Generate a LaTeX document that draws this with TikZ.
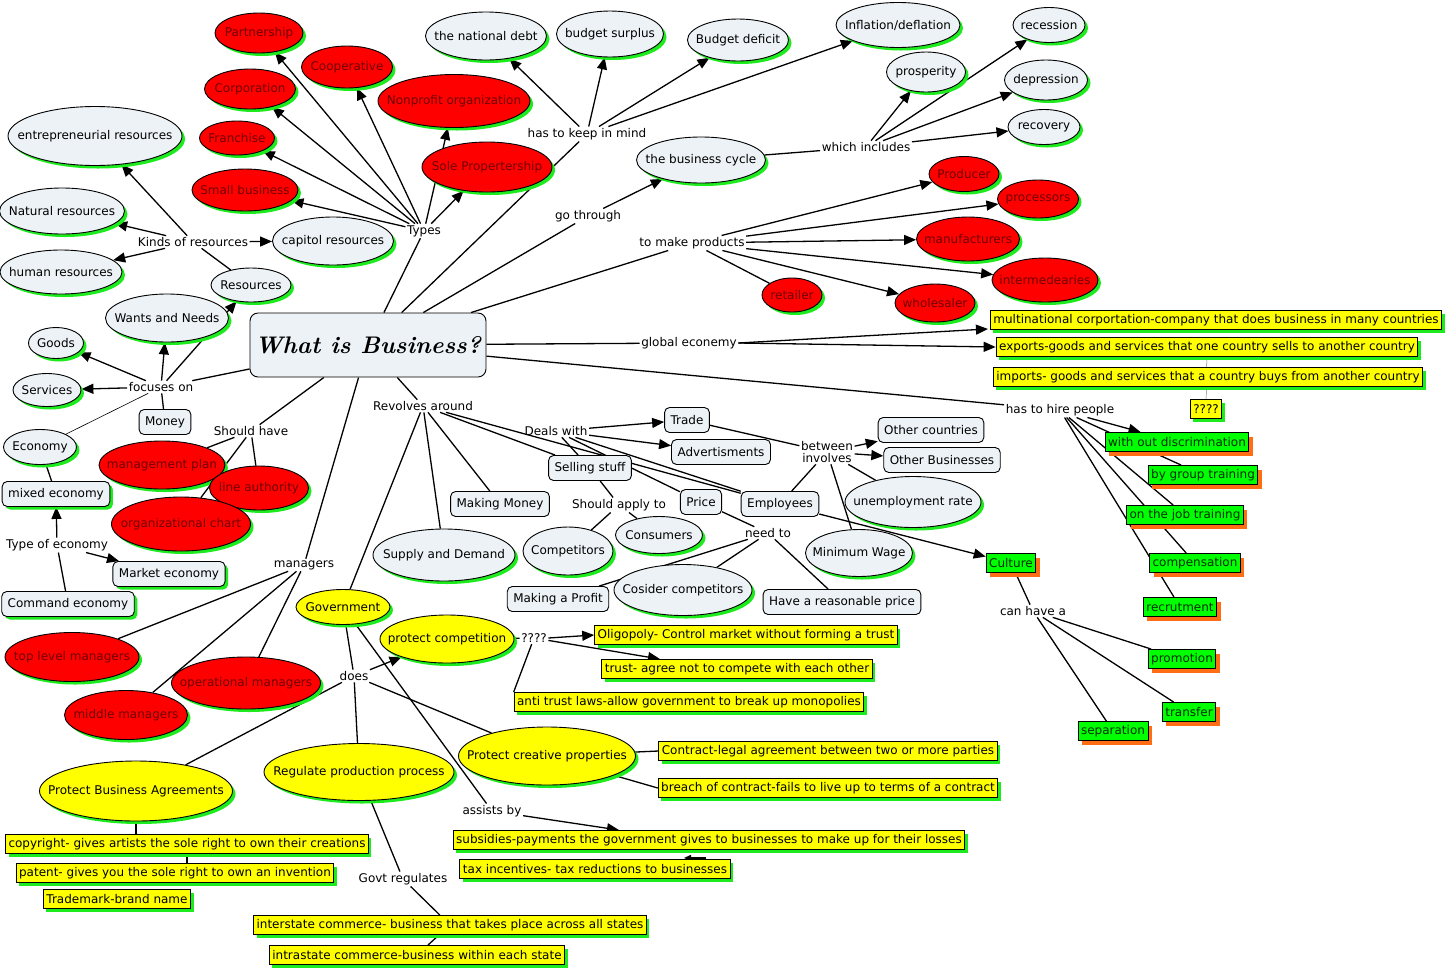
\documentclass[tikz,border=0pt]{standalone}
\usepackage{fontspec}
\setsansfont{DejaVu Sans}
\usetikzlibrary{shadows,arrows.meta,calc,shapes.geometric}
\pgfdeclarelayer{bg}
\pgfdeclarelayer{paper}
\pgfsetlayers{paper,bg,main}
\definecolor{lightc}{RGB}{236,242,245}
\definecolor{shg}{RGB}{30,235,30}
\definecolor{rfill}{RGB}{255,0,0}
\definecolor{rtext}{RGB}{110,0,0}
\definecolor{yfill}{RGB}{255,255,0}
\definecolor{gfill}{RGB}{0,255,0}
\definecolor{gtext}{RGB}{0,45,0}
\definecolor{oshc}{RGB}{255,110,20}
\newcommand\Ov[6]{\node[#1,minimum width=#4pt,minimum height=#5pt] (#2) at (#3) {};\node[#1t] at (#2.center) {#6};}
\begin{document}
\begin{tikzpicture}[x=1pt,y=-1pt,
  every node/.style={font=\sffamily\fontsize{12}{14}\selectfont},
  gsh/.style={drop shadow={shadow xshift=3pt,shadow yshift=-3pt,fill=shg,opacity=1}},
  oshd/.style={drop shadow={shadow xshift=4pt,shadow yshift=-4pt,fill=oshc,opacity=1}},
  ovbase/.style={ellipse,draw=black,line width=0.9pt,inner sep=0pt,gsh},
  rov/.style={ovbase,fill=rfill}, rovt/.style={text=rtext},
  lov/.style={ovbase,fill=lightc}, lovt/.style={text=black},
  yov/.style={ovbase,fill=yfill}, yovt/.style={text=black},
  lbox/.style={rectangle,rounded corners=5pt,draw=black,line width=0.9pt,fill=lightc,inner xsep=6pt,inner ysep=0pt,minimum height=25pt},
  lboxs/.style={lbox,gsh},
  ybox/.style={rectangle,draw=black,line width=0.9pt,fill=yfill,inner xsep=3pt,inner ysep=0pt,minimum height=19pt,gsh},
  gbox/.style={rectangle,draw=black,line width=0.9pt,fill=gfill,text=gtext,inner xsep=3pt,inner ysep=0pt,minimum height=19pt,oshd},
  lab/.style={inner sep=1.5pt},
  ln/.style={line width=1.3pt,draw=black},
  arr/.style={ln,-{Triangle[length=12pt,width=10pt]}},
  thinln/.style={line width=0.6pt,draw=black}
]
\begin{pgfonlayer}{paper}
\fill[white] (0,0) rectangle (1450,970);
\end{pgfonlayer}
\useasboundingbox (0,0) rectangle (1450,970);

% main
\node[rectangle,rounded corners=8pt,draw=black,line width=0.9pt,fill=lightc,minimum width=236pt,minimum height=64pt] (main) at (368,345) {\rmfamily\bfseries\itshape\fontsize{24}{28}\selectfont What is Business?};

% red ovals
\Ov{rov}{partner}{259,33}{88}{40}{Partnership}
\Ov{rov}{coop}{347,67}{91}{42}{Cooperative}
\Ov{rov}{corp}{250,89}{91}{40}{Corporation}
\Ov{rov}{franch}{237,138}{75}{34}{Franchise}
\Ov{rov}{smallb}{245,190}{106}{42}{Small business}
\Ov{rov}{nonprofit}{454,101}{152}{53}{Nonprofit organization}
\Ov{rov}{solep}{487,167}{130}{50}{Sole Propertership}
\Ov{rov}{producer}{964,174}{70}{35}{Producer}
\Ov{rov}{processors}{1038,199}{81}{38}{processors}
\Ov{rov}{manuf}{968,239}{103}{44}{manufacturers}
\Ov{rov}{interm}{1045,280}{106}{44}{intermedearies}
\Ov{rov}{retailer}{792,295}{60}{34}{retailer}
\Ov{rov}{wholesaler}{935,303}{80}{38}{wholesaler}
\Ov{rov}{mgmtplan}{162,465}{126}{48}{management plan}
\Ov{rov}{lineauth}{259,488}{99}{44}{line authority}
\Ov{rov}{orgchart}{181,524}{139}{54}{organizational chart}
\Ov{rov}{toplevel}{72,657}{134}{49}{top level managers}
\Ov{rov}{operational}{246,683}{149}{52}{operational managers}
\Ov{rov}{middle}{126,715}{123}{49}{middle managers}

% light ovals
\Ov{lov}{entre}{95,136}{174}{59}{entrepreneurial resources}
\Ov{lov}{natural}{62,211}{125}{46}{Natural resources}
\Ov{lov}{human}{61,272}{122}{44}{human resources}
\Ov{lov}{capitol}{333,241}{121}{48}{capitol resources}
\Ov{lov}{resources}{251,285}{80}{34}{Resources}
\Ov{lov}{wants}{167,318}{123}{48}{Wants and Needs}
\Ov{lov}{natdebt}{486,36}{121}{48}{the national debt}
\Ov{lov}{surplus}{610,34}{107}{46}{budget surplus}
\Ov{lov}{deficit}{738,40}{101}{42}{Budget deficit}
\Ov{lov}{inflation}{898,25}{124}{45}{Inflation/deflation}
\Ov{lov}{recession}{1049,25}{72}{35}{recession}
\Ov{lov}{prosperity}{926,72}{79}{40}{prosperity}
\Ov{lov}{depression}{1046,80}{83}{40}{depression}
\Ov{lov}{recovery}{1044,127}{72}{35}{recovery}
\Ov{lov}{cycle}{701,160}{129}{46}{the business cycle}
\Ov{lov}{goods}{56,343}{55}{31}{Goods}
\Ov{lov}{services}{47,390}{68}{33}{Services}
\Ov{lov}{economy}{40,447}{73}{35}{Economy}
\Ov{lov}{unemploy}{913,502}{136}{51}{unemployment rate}
\Ov{lov}{consumers}{659,535}{87}{37}{Consumers}
\Ov{lov}{competitors}{568,551}{90}{48}{Competitors}
\Ov{lov}{supply}{444,555}{142}{52}{Supply and Demand}
\Ov{lov}{minwage}{859,553}{107}{47}{Minimum Wage}
\Ov{lov}{consider}{683,590}{138}{51}{Cosider competitors}

% yellow ovals
\Ov{yov}{govt}{343,607}{94}{35}{Government}
\Ov{yov}{protcomp}{447,639}{134}{48}{protect competition}
\Ov{yov}{creative}{547,756}{177}{58}{Protect creative properties}
\Ov{yov}{regulate}{359,772}{190}{57}{Regulate production process}
\Ov{yov}{agreements}{136,791}{193}{60}{Protect Business Agreements}

% light boxes
\node[lbox] (money) at (165,422) {Money};
\node[lboxs] (mixed) at (56,494) {mixed economy};
\node[lboxs] (market) at (169,574) {Market economy};
\node[lboxs] (command) at (68,604) {Command economy};
\node[lbox] (trade) at (687,420) {Trade};
\node[lbox] (advert) at (721,452) {Advertisments};
\node[lbox] (othercountries) at (931,430) {Other countries};
\node[lbox] (otherbiz) at (942,460) {Other Businesses};
\node[lbox] (selling) at (590,468) {Selling stuff};
\node[lbox] (makingmoney) at (500,504) {Making Money};
\node[lbox] (price) at (701,502) {Price};
\node[lbox] (employees) at (780,504) {Employees};
\node[lbox] (makingprofit) at (558,599) {Making a Profit};
\node[lbox] (reasonable) at (842,602) {Have a reasonable price};

% yellow boxes
\node[ybox] (multinat) at (1216,320) {multinational corportation-company that does business in many countries};
\node[ybox] (exports) at (1207,347) {exports-goods and services that one country sells to another country};
\node[ybox] (imports) at (1208,377) {imports- goods and services that a country buys from another country};
\node[ybox] (qq) at (1206,409) {????};
\node[ybox] (oligopoly) at (746,635) {Oligopoly- Control market without forming a trust};
\node[ybox] (trust) at (737,669) {trust- agree not to compete with each other};
\node[ybox] (antitrust) at (689,702) {anti trust laws-allow government to break up monopolies};
\node[ybox] (contract) at (828,751) {Contract-legal agreement between two or more parties};
\node[ybox] (breach) at (828,788) {breach of contract-fails to live up to terms of a contract};
\node[ybox] (subsidies) at (709,840) {subsidies-payments the government gives to businesses to make up for their losses};
\node[ybox] (taxinc) at (595,869) {tax incentives- tax reductions to businesses};
\node[ybox] (copyright) at (187,844) {copyright- gives artists the sole right to own their creations};
\node[ybox] (patent) at (175,873) {patent- gives you the sole right to own an invention};
\node[ybox] (trademark) at (117,899) {Trademark-brand name};
\node[ybox] (interstate) at (450,925) {interstate commerce- business that takes place across all states};
\node[ybox] (intrastate) at (417,955) {intrastate commerce-business within each state};

% green boxes
\node[gbox] (withoutdisc) at (1177,442) {with out discrimination};
\node[gbox] (bygroup) at (1203,475) {by group training};
\node[gbox] (onjob) at (1185,515) {on the job training};
\node[gbox] (compensation) at (1195,563) {compensation};
\node[gbox] (recrut) at (1180,607) {recrutment};
\node[gbox] (culture) at (1011,563) {Culture};
\node[gbox] (promotion) at (1182,659) {promotion};
\node[gbox] (transfer) at (1189,712) {transfer};
\node[gbox] (separation) at (1113,731) {separation};

% linking phrases
\node[lab] (kinds) at (193,242) {Kinds of resources};
\node[lab] (types) at (424,231) {Types};
\node[lab] (keep) at (587,134) {has to keep in mind};
\node[lab] (which) at (866,147) {which includes};
\node[lab] (gothrough) at (588,216) {go through};
\node[lab] (makeprod) at (692,243) {to make products};
\node[lab] (global) at (689,343) {global econemy};
\node[lab] (hire) at (1060,410) {has to hire people};
\node[lab] (canhave) at (1033,611) {can have a};
\node[lab] (focuses) at (161,387) {focuses on};
\node[lab] (shouldhave) at (251,431) {Should have};
\node[lab] (typeeco) at (57,545) {Type of economy};
\node[lab] (managers) at (304,565) {managers};
\node[lab] (revolves) at (423,406) {Revolves around};
\node[lab] (deals) at (556,431) {Deals with};
\node[lab,align=center] (between) at (827,452) {between\\[-2pt]involves};
\node[lab] (shouldapply) at (619,505) {Should apply to};
\node[lab] (needto) at (768,533) {need to};
\node[lab] (qmark) at (534,638) {????};
\node[lab] (does) at (354,676) {does};
\node[lab] (assists) at (492,811) {assists by};
\node[lab] (govtreg) at (403,879) {Govt regulates};

\begin{pgfonlayer}{bg}
% from main
\foreach \t in {types,keep,gothrough,makeprod,global,hire,focuses,shouldhave,managers,revolves}
  \draw[ln] (main) -- (\t);
% resources
\foreach \t in {entre,natural,human,capitol} \draw[arr] (kinds) -- (\t);
\draw[ln] (resources) -- (kinds);
\foreach \t in {partner,coop,corp,franch,smallb,nonprofit,solep} \draw[arr] (types) -- (\t);
\foreach \t in {natdebt,surplus,deficit,inflation} \draw[arr] (keep) -- (\t);
\draw[arr] (gothrough) -- (cycle);
\draw[ln] (cycle) -- (which);
\foreach \t in {prosperity,recession,depression,recovery} \draw[arr] (which) -- (\t);
\foreach \t in {producer,processors,manuf,interm,wholesaler} \draw[arr] (makeprod) -- (\t);
\draw[ln] (makeprod) -- (retailer);
\draw[arr] (global.east) -- ([xshift=-2pt,yshift=1pt]multinat.south west);
\draw[arr] (global.east) -- (exports.west);
\draw[line width=0.5pt,gray] (exports) -- (qq);
% hire
\draw[arr] (hire) -- (withoutdisc);
\foreach \t in {bygroup,onjob,compensation,recrut} \draw[ln] (hire) -- (\t);
\draw[arr] (employees) -- (culture);
\draw[ln] (culture) -- (canhave);
\foreach \t in {promotion,transfer,separation} \draw[ln] (canhave) -- (\t);
% focuses
\foreach \t in {goods,services,wants,resources} \draw[arr] (focuses) -- (\t);
\draw[ln] (focuses) -- (money);
\draw[thinln] (focuses) -- (economy);
\draw[ln] (economy) -- (mixed);
\draw[arr] (typeeco) -- (mixed);
\draw[arr] (typeeco) -- (market);
\draw[ln] (command) -- (typeeco);
% should have
\foreach \t in {mgmtplan,lineauth,orgchart} \draw[ln] (shouldhave) -- (\t);
\foreach \t in {toplevel,middle,operational} \draw[ln] (managers) -- (\t);
% revolves
\foreach \t in {govt,supply,makingmoney,selling,employees} \draw[ln] (revolves) -- (\t);
\draw[ln] (selling) -- (deals);
\draw[ln] (deals) -- (price);
\draw[ln] (deals) -- (employees);
\draw[arr] (deals) -- (trade);
\draw[arr] (deals) -- (advert);
\draw[ln] (trade) -- (between);
\draw[arr] (between) -- (othercountries);
\draw[arr] (between) -- (otherbiz);
\foreach \t in {employees,minwage,unemploy} \draw[ln] (between) -- (\t);
\draw[ln] (selling) -- (shouldapply);
\draw[ln] (shouldapply) -- (competitors);
\draw[ln] (shouldapply) -- (consumers);
\draw[ln] (price) -- (needto);
\foreach \t in {consider,makingprofit,reasonable} \draw[ln] (needto) -- (\t);
% government
\draw[ln] (govt) -- (does);
\draw[arr] (does) -- (protcomp);
\foreach \t in {creative,regulate,agreements} \draw[ln] (does) -- (\t);
\draw[ln] (govt) -- (assists);
\draw[arr] (assists) -- ([xshift=-90pt]subsidies.north);
\draw[ln,-{Triangle[length=7pt,width=6pt]}] ($(subsidies.south)+(-3,8)$) -- ($(subsidies.south)+(-25,8)$);
\draw[ln] (protcomp) -- (qmark);
\draw[arr] (qmark.east) -- (oligopoly.west);
\draw[arr] (qmark) -- ([xshift=-77pt]trust.north);
\draw[ln] (qmark) -- (antitrust.north west);
\draw[ln] (creative) -- (contract.west);
\draw[ln] (creative) -- (breach.west);
\draw[ln] (agreements.south) -- (agreements.south |- copyright.north);
\draw[ln] (copyright.south) -- (copyright.south |- patent.north);
\draw[ln] (regulate) -- (govtreg);
\draw[ln] (govtreg) -- (interstate);
\draw[ln] (interstate) -- (intrastate);
\end{pgfonlayer}
\end{tikzpicture}
\end{document}
